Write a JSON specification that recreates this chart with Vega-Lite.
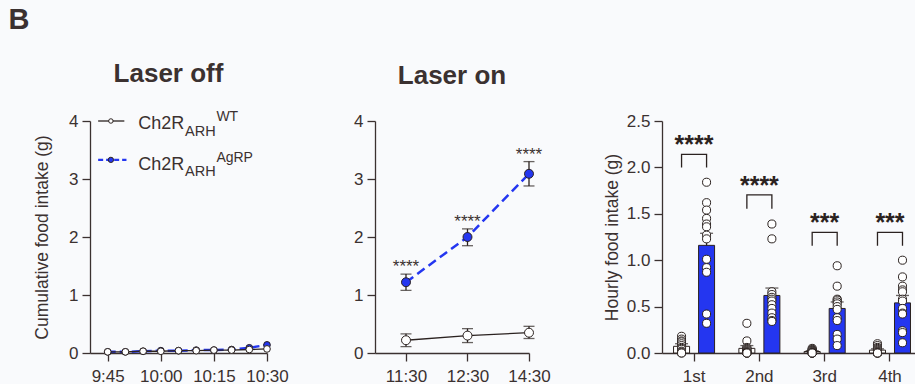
{
  "$schema": "https://vega.github.io/schema/vega-lite/v6.json",
  "background": "#f9fafc",
  "padding": {"left": 8, "top": 6, "right": 0, "bottom": 0},
  "title": {"text": "B", "anchor": "start", "frame": "bounds", "fontSize": 29, "fontWeight": "bold", "color": "#3b3130", "font": "Liberation Sans", "dx": -25, "offset": 26},
  "bounds": "flush",
  "spacing": 108,
  "datasets": {
    "cum": [
      {"min": 45, "group": "WT", "intake": 0.02}, {"min": 50, "group": "WT", "intake": 0.02}, {"min": 55, "group": "WT", "intake": 0.03}, {"min": 60, "group": "WT", "intake": 0.03}, {"min": 65, "group": "WT", "intake": 0.04}, {"min": 70, "group": "WT", "intake": 0.04}, {"min": 75, "group": "WT", "intake": 0.05}, {"min": 80, "group": "WT", "intake": 0.05}, {"min": 85, "group": "WT", "intake": 0.06}, {"min": 90, "group": "WT", "intake": 0.07},
      {"min": 45, "group": "AgRP", "intake": 0.02}, {"min": 50, "group": "AgRP", "intake": 0.02}, {"min": 55, "group": "AgRP", "intake": 0.03}, {"min": 60, "group": "AgRP", "intake": 0.04}, {"min": 65, "group": "AgRP", "intake": 0.04}, {"min": 70, "group": "AgRP", "intake": 0.05}, {"min": 75, "group": "AgRP", "intake": 0.05}, {"min": 80, "group": "AgRP", "intake": 0.06}, {"min": 85, "group": "AgRP", "intake": 0.09}, {"min": 90, "group": "AgRP", "intake": 0.14}
    ],
    "laser": [
      {"time": "11:30", "group": "WT", "mean": 0.22, "lo": 0.11, "hi": 0.33, "sig": ""},
      {"time": "12:30", "group": "WT", "mean": 0.30, "lo": 0.18, "hi": 0.42, "sig": ""},
      {"time": "14:30", "group": "WT", "mean": 0.35, "lo": 0.25, "hi": 0.46, "sig": ""},
      {"time": "11:30", "group": "AgRP", "mean": 1.22, "lo": 1.08, "hi": 1.36, "sig": "****"},
      {"time": "12:30", "group": "AgRP", "mean": 2.00, "lo": 1.85, "hi": 2.14, "sig": "****"},
      {"time": "14:30", "group": "AgRP", "mean": 3.09, "lo": 2.88, "hi": 3.30, "sig": "****"}
    ],
    "legend": [{"series": "WT"}],
    "hourly": [
      {"period": "1st", "group": "WT", "value": 0.18}, {"period": "1st", "group": "WT", "value": 0.15}, {"period": "1st", "group": "WT", "value": 0.13}, {"period": "1st", "group": "WT", "value": 0.12}, {"period": "1st", "group": "WT", "value": 0.10}, {"period": "1st", "group": "WT", "value": 0.08}, {"period": "1st", "group": "WT", "value": 0.06}, {"period": "1st", "group": "WT", "value": 0.05}, {"period": "1st", "group": "WT", "value": 0.04}, {"period": "1st", "group": "WT", "value": 0.02}, {"period": "1st", "group": "WT", "value": 0.01}, {"period": "1st", "group": "WT", "value": 0.0}, {"period": "1st", "group": "WT", "value": 0.0},
      {"period": "1st", "group": "AgRP", "value": 1.84}, {"period": "1st", "group": "AgRP", "value": 1.62}, {"period": "1st", "group": "AgRP", "value": 1.54}, {"period": "1st", "group": "AgRP", "value": 1.45}, {"period": "1st", "group": "AgRP", "value": 1.39}, {"period": "1st", "group": "AgRP", "value": 1.36}, {"period": "1st", "group": "AgRP", "value": 1.27}, {"period": "1st", "group": "AgRP", "value": 1.23}, {"period": "1st", "group": "AgRP", "value": 1.01}, {"period": "1st", "group": "AgRP", "value": 0.92}, {"period": "1st", "group": "AgRP", "value": 0.87}, {"period": "1st", "group": "AgRP", "value": 0.42}, {"period": "1st", "group": "AgRP", "value": 0.32},
      {"period": "2nd", "group": "WT", "value": 0.32}, {"period": "2nd", "group": "WT", "value": 0.13}, {"period": "2nd", "group": "WT", "value": 0.06}, {"period": "2nd", "group": "WT", "value": 0.05}, {"period": "2nd", "group": "WT", "value": 0.04}, {"period": "2nd", "group": "WT", "value": 0.03}, {"period": "2nd", "group": "WT", "value": 0.02}, {"period": "2nd", "group": "WT", "value": 0.01}, {"period": "2nd", "group": "WT", "value": 0.01}, {"period": "2nd", "group": "WT", "value": 0.0}, {"period": "2nd", "group": "WT", "value": 0.0}, {"period": "2nd", "group": "WT", "value": 0.0}, {"period": "2nd", "group": "WT", "value": 0.0},
      {"period": "2nd", "group": "AgRP", "value": 1.39}, {"period": "2nd", "group": "AgRP", "value": 1.23}, {"period": "2nd", "group": "AgRP", "value": 0.66}, {"period": "2nd", "group": "AgRP", "value": 0.63}, {"period": "2nd", "group": "AgRP", "value": 0.60}, {"period": "2nd", "group": "AgRP", "value": 0.58}, {"period": "2nd", "group": "AgRP", "value": 0.56}, {"period": "2nd", "group": "AgRP", "value": 0.52}, {"period": "2nd", "group": "AgRP", "value": 0.48}, {"period": "2nd", "group": "AgRP", "value": 0.43}, {"period": "2nd", "group": "AgRP", "value": 0.38}, {"period": "2nd", "group": "AgRP", "value": 0.35}, {"period": "2nd", "group": "AgRP", "value": 0.34},
      {"period": "3rd", "group": "WT", "value": 0.05}, {"period": "3rd", "group": "WT", "value": 0.04}, {"period": "3rd", "group": "WT", "value": 0.03}, {"period": "3rd", "group": "WT", "value": 0.03}, {"period": "3rd", "group": "WT", "value": 0.02}, {"period": "3rd", "group": "WT", "value": 0.02}, {"period": "3rd", "group": "WT", "value": 0.01}, {"period": "3rd", "group": "WT", "value": 0.01}, {"period": "3rd", "group": "WT", "value": 0.0}, {"period": "3rd", "group": "WT", "value": 0.0}, {"period": "3rd", "group": "WT", "value": 0.0}, {"period": "3rd", "group": "WT", "value": 0.0}, {"period": "3rd", "group": "WT", "value": 0.0},
      {"period": "3rd", "group": "AgRP", "value": 0.94}, {"period": "3rd", "group": "AgRP", "value": 0.72}, {"period": "3rd", "group": "AgRP", "value": 0.58}, {"period": "3rd", "group": "AgRP", "value": 0.57}, {"period": "3rd", "group": "AgRP", "value": 0.55}, {"period": "3rd", "group": "AgRP", "value": 0.53}, {"period": "3rd", "group": "AgRP", "value": 0.50}, {"period": "3rd", "group": "AgRP", "value": 0.47}, {"period": "3rd", "group": "AgRP", "value": 0.38}, {"period": "3rd", "group": "AgRP", "value": 0.35}, {"period": "3rd", "group": "AgRP", "value": 0.20}, {"period": "3rd", "group": "AgRP", "value": 0.15}, {"period": "3rd", "group": "AgRP", "value": 0.08},
      {"period": "4th", "group": "WT", "value": 0.10}, {"period": "4th", "group": "WT", "value": 0.08}, {"period": "4th", "group": "WT", "value": 0.06}, {"period": "4th", "group": "WT", "value": 0.05}, {"period": "4th", "group": "WT", "value": 0.04}, {"period": "4th", "group": "WT", "value": 0.03}, {"period": "4th", "group": "WT", "value": 0.02}, {"period": "4th", "group": "WT", "value": 0.01}, {"period": "4th", "group": "WT", "value": 0.01}, {"period": "4th", "group": "WT", "value": 0.0}, {"period": "4th", "group": "WT", "value": 0.0}, {"period": "4th", "group": "WT", "value": 0.0}, {"period": "4th", "group": "WT", "value": 0.0},
      {"period": "4th", "group": "AgRP", "value": 1.00}, {"period": "4th", "group": "AgRP", "value": 0.82}, {"period": "4th", "group": "AgRP", "value": 0.72}, {"period": "4th", "group": "AgRP", "value": 0.68}, {"period": "4th", "group": "AgRP", "value": 0.66}, {"period": "4th", "group": "AgRP", "value": 0.58}, {"period": "4th", "group": "AgRP", "value": 0.56}, {"period": "4th", "group": "AgRP", "value": 0.48}, {"period": "4th", "group": "AgRP", "value": 0.43}, {"period": "4th", "group": "AgRP", "value": 0.42}, {"period": "4th", "group": "AgRP", "value": 0.24}, {"period": "4th", "group": "AgRP", "value": 0.22}, {"period": "4th", "group": "AgRP", "value": 0.11}
    ],
    "hourbars": [
      {"period": "1st", "group": "WT", "mean": 0.072, "hi": 0.10}, {"period": "1st", "group": "AgRP", "mean": 1.16, "hi": 1.29},
      {"period": "2nd", "group": "WT", "mean": 0.05, "hi": 0.08}, {"period": "2nd", "group": "AgRP", "mean": 0.62, "hi": 0.70},
      {"period": "3rd", "group": "WT", "mean": 0.016, "hi": 0.025}, {"period": "3rd", "group": "AgRP", "mean": 0.48, "hi": 0.55},
      {"period": "4th", "group": "WT", "mean": 0.031, "hi": 0.045}, {"period": "4th", "group": "AgRP", "mean": 0.54, "hi": 0.62}
    ],
    "brackets": [
      {"period": "1st", "group": "WT", "y": 2.0, "ord": 0}, {"period": "1st", "group": "WT", "y": 2.14, "ord": 1}, {"period": "1st", "group": "AgRP", "y": 2.14, "ord": 2}, {"period": "1st", "group": "AgRP", "y": 2.0, "ord": 3},
      {"period": "2nd", "group": "WT", "y": 1.555, "ord": 0}, {"period": "2nd", "group": "WT", "y": 1.705, "ord": 1}, {"period": "2nd", "group": "AgRP", "y": 1.705, "ord": 2}, {"period": "2nd", "group": "AgRP", "y": 1.555, "ord": 3},
      {"period": "3rd", "group": "WT", "y": 1.155, "ord": 0}, {"period": "3rd", "group": "WT", "y": 1.30, "ord": 1}, {"period": "3rd", "group": "AgRP", "y": 1.30, "ord": 2}, {"period": "3rd", "group": "AgRP", "y": 1.155, "ord": 3},
      {"period": "4th", "group": "WT", "y": 1.155, "ord": 0}, {"period": "4th", "group": "WT", "y": 1.30, "ord": 1}, {"period": "4th", "group": "AgRP", "y": 1.30, "ord": 2}, {"period": "4th", "group": "AgRP", "y": 1.155, "ord": 3}
    ],
    "hoursig": [
      {"period": "1st", "top": 2.14, "sig": "****"},
      {"period": "2nd", "top": 1.705, "sig": "****"},
      {"period": "3rd", "top": 1.30, "sig": "***"},
      {"period": "4th", "top": 1.30, "sig": "***"}
    ]
  },
  "hconcat": [
    {
      "width": 177,
      "height": 232,
      "title": {"text": "Laser off", "dx": -10},
      "data": {"name": "cum"},
      "layer": [
        {
          "transform": [{"filter": "datum.group === 'AgRP'"}],
          "mark": {"type": "line", "color": "#2436f0", "strokeWidth": 2.5, "strokeDash": [8, 4]},
          "encoding": {
            "x": {"field": "min", "type": "quantitative", "scale": {"domain": [40, 90], "nice": false, "zero": false}, "axis": {"title": null, "values": [45, 60, 75, 90], "labelExpr": "(9 + floor(datum.value / 60)) + ':' + (datum.value % 60 < 10 ? '0' : '') + (datum.value % 60)"}},
            "y": {"field": "intake", "type": "quantitative", "scale": {"domain": [0, 4], "nice": false}, "axis": {"title": "Cumulative food intake (g)", "values": [0, 1, 2, 3, 4], "format": "d", "titlePadding": 17}}
          }
        },
        {
          "transform": [{"filter": "datum.group === 'WT'"}],
          "mark": {"type": "line", "color": "#2b2220", "strokeWidth": 1.3},
          "encoding": {"x": {"field": "min", "type": "quantitative"}, "y": {"field": "intake", "type": "quantitative"}}
        },
        {
          "transform": [{"filter": "datum.group === 'AgRP'"}],
          "mark": {"type": "point", "shape": "circle", "filled": true, "fill": "#2436f0", "stroke": "#2b2220", "strokeWidth": 1, "size": 45, "opacity": 1},
          "encoding": {"x": {"field": "min", "type": "quantitative"}, "y": {"field": "intake", "type": "quantitative"}}
        },
        {
          "transform": [{"filter": "datum.group === 'WT'"}],
          "mark": {"type": "point", "shape": "circle", "filled": true, "fill": "#ffffff", "stroke": "#2b2220", "strokeWidth": 1, "size": 45, "opacity": 1},
          "encoding": {"x": {"field": "min", "type": "quantitative"}, "y": {"field": "intake", "type": "quantitative"}}
        },
        {
          "data": {"name": "legend"},
          "mark": {"type": "rule", "color": "#2b2220", "strokeWidth": 1.3},
          "encoding": {"x": {"datum": 42.3, "type": "quantitative"}, "x2": {"datum": 49.7}, "y": {"datum": 4.0, "type": "quantitative"}}
        },
        {
          "data": {"name": "legend"},
          "mark": {"type": "rule", "color": "#2436f0", "strokeWidth": 2.2, "strokeDash": [5, 3]},
          "encoding": {"x": {"datum": 42.3, "type": "quantitative"}, "x2": {"datum": 50.3}, "y": {"datum": 3.33, "type": "quantitative"}}
        },
        {
          "data": {"name": "legend"},
          "mark": {"type": "point", "shape": "circle", "filled": true, "fill": "#ffffff", "stroke": "#2b2220", "strokeWidth": 1, "size": 20, "opacity": 1},
          "encoding": {"x": {"datum": 45.9, "type": "quantitative"}, "y": {"datum": 4.0, "type": "quantitative"}}
        },
        {
          "data": {"name": "legend"},
          "mark": {"type": "point", "shape": "circle", "filled": true, "fill": "#2436f0", "stroke": "#2b2220", "strokeWidth": 1, "size": 28, "opacity": 1},
          "encoding": {"x": {"datum": 45.9, "type": "quantitative"}, "y": {"datum": 3.33, "type": "quantitative"}}
        },
        {
          "data": {"name": "legend"},
          "mark": {"type": "text", "text": "Ch2R", "fontSize": 18, "align": "left", "baseline": "alphabetic", "color": "#3b3130"},
          "encoding": {"x": {"datum": 53.64, "type": "quantitative"}, "y": {"datum": 3.862, "type": "quantitative"}}
        },
        {
          "data": {"name": "legend"},
          "mark": {"type": "text", "text": "ARH", "fontSize": 14.5, "align": "left", "baseline": "alphabetic", "color": "#3b3130"},
          "encoding": {"x": {"datum": 66.84, "type": "quantitative"}, "y": {"datum": 3.748, "type": "quantitative"}}
        },
        {
          "data": {"name": "legend"},
          "mark": {"type": "text", "text": "WT", "fontSize": 14, "align": "left", "baseline": "alphabetic", "color": "#3b3130"},
          "encoding": {"x": {"datum": 75.7, "type": "quantitative"}, "y": {"datum": 3.995, "type": "quantitative"}}
        },
        {
          "data": {"name": "legend"},
          "mark": {"type": "text", "text": "Ch2R", "fontSize": 18, "align": "left", "baseline": "alphabetic", "color": "#3b3130"},
          "encoding": {"x": {"datum": 53.64, "type": "quantitative"}, "y": {"datum": 3.162, "type": "quantitative"}}
        },
        {
          "data": {"name": "legend"},
          "mark": {"type": "text", "text": "ARH", "fontSize": 14.5, "align": "left", "baseline": "alphabetic", "color": "#3b3130"},
          "encoding": {"x": {"datum": 66.84, "type": "quantitative"}, "y": {"datum": 3.048, "type": "quantitative"}}
        },
        {
          "data": {"name": "legend"},
          "mark": {"type": "text", "text": "AgRP", "fontSize": 14, "align": "left", "baseline": "alphabetic", "color": "#3b3130"},
          "encoding": {"x": {"datum": 75.7, "type": "quantitative"}, "y": {"datum": 3.295, "type": "quantitative"}}
        }
      ]
    },
    {
      "width": 179,
      "height": 232,
      "title": {"text": "Laser on", "dx": -12.5},
      "data": {"name": "laser"},
      "encoding": {
        "x": {"field": "time", "type": "ordinal", "scale": {"type": "point", "padding": 0.252, "align": 1, "domain": ["11:30", "12:30", "14:30"], "range": [0, 154]}, "axis": {"title": null, "labelAngle": 0}}
      },
      "layer": [
        {
          "transform": [{"filter": "datum.group === 'AgRP'"}],
          "mark": {"type": "line", "color": "#2436f0", "strokeWidth": 2.5, "strokeDash": [9, 5]},
          "encoding": {"y": {"field": "mean", "type": "quantitative", "scale": {"domain": [0, 4], "nice": false}, "axis": {"title": null, "values": [0, 1, 2, 3, 4], "format": "d"}}}
        },
        {
          "transform": [{"filter": "datum.group === 'WT'"}],
          "mark": {"type": "line", "color": "#2b2220", "strokeWidth": 1.3},
          "encoding": {"y": {"field": "mean", "type": "quantitative"}}
        },
        {
          "mark": {"type": "rule", "color": "#2b2220", "strokeWidth": 1.3},
          "encoding": {"y": {"field": "lo", "type": "quantitative"}, "y2": {"field": "hi"}}
        },
        {
          "mark": {"type": "tick", "color": "#2b2220", "thickness": 1.3, "size": 11, "orient": "horizontal"},
          "encoding": {"y": {"field": "lo", "type": "quantitative"}}
        },
        {
          "mark": {"type": "tick", "color": "#2b2220", "thickness": 1.3, "size": 11, "orient": "horizontal"},
          "encoding": {"y": {"field": "hi", "type": "quantitative"}}
        },
        {
          "transform": [{"filter": "datum.group === 'WT'"}],
          "mark": {"type": "point", "shape": "circle", "filled": true, "fill": "#ffffff", "stroke": "#2b2220", "strokeWidth": 1, "size": 80, "opacity": 1},
          "encoding": {"y": {"field": "mean", "type": "quantitative"}}
        },
        {
          "transform": [{"filter": "datum.group === 'AgRP'"}],
          "mark": {"type": "point", "shape": "circle", "filled": true, "fill": "#2436f0", "stroke": "#2b2220", "strokeWidth": 1, "size": 80, "opacity": 1},
          "encoding": {"y": {"field": "mean", "type": "quantitative"}}
        },
        {
          "transform": [{"filter": "datum.group === 'AgRP'"}],
          "mark": {"type": "text", "fontSize": 17, "baseline": "alphabetic", "dy": -2, "color": "#3b3130"},
          "encoding": {"y": {"field": "hi", "type": "quantitative"}, "text": {"field": "sig"}}
        }
      ]
    },
    {
      "width": 253,
      "height": 232,
      "encoding": {
        "x": {"field": "period", "type": "nominal", "scale": {"type": "band", "domain": ["1st", "2nd", "3rd", "4th"], "paddingInner": 0.234, "paddingOuter": 0.054, "align": 1}, "axis": {"title": null, "labelAngle": 0}},
        "xOffset": {"field": "group", "type": "nominal", "scale": {"domain": ["WT", "AgRP"], "paddingInner": 0.36, "paddingOuter": 0.18}}
      },
      "layer": [
        {
          "data": {"name": "hourbars"},
          "mark": {"type": "bar", "stroke": "#2b2220", "strokeWidth": 1},
          "encoding": {
            "y": {"field": "mean", "type": "quantitative", "scale": {"domain": [0, 2.5], "nice": false}, "axis": {"title": "Hourly food intake (g)", "values": [0, 0.5, 1, 1.5, 2, 2.5], "format": ".1f", "titlePadding": 5}},
            "color": {"field": "group", "type": "nominal", "scale": {"domain": ["WT", "AgRP"], "range": ["#ffffff", "#2436f0"]}, "legend": null}
          }
        },
        {
          "data": {"name": "hourbars"},
          "mark": {"type": "rule", "color": "#2b2220", "strokeWidth": 1.3},
          "encoding": {"y": {"field": "mean", "type": "quantitative"}, "y2": {"field": "hi"}}
        },
        {
          "data": {"name": "hourbars"},
          "mark": {"type": "tick", "color": "#2b2220", "thickness": 1.3, "size": 13, "orient": "horizontal"},
          "encoding": {"y": {"field": "hi", "type": "quantitative"}}
        },
        {
          "data": {"name": "hourly"},
          "mark": {"type": "point", "shape": "circle", "filled": true, "fill": "#ffffff", "stroke": "#2b2220", "strokeWidth": 1, "size": 65, "opacity": 1},
          "encoding": {"y": {"field": "value", "type": "quantitative"}}
        },
        {
          "data": {"name": "brackets"},
          "mark": {"type": "line", "color": "#2b2220", "strokeWidth": 1.3},
          "encoding": {"y": {"field": "y", "type": "quantitative"}, "detail": {"field": "period"}, "order": {"field": "ord", "type": "quantitative"}}
        },
        {
          "data": {"name": "hoursig"},
          "mark": {"type": "text", "fontSize": 25, "fontWeight": "bold", "baseline": "alphabetic", "dy": -1, "color": "#2b2220"},
          "encoding": {"xOffset": null, "y": {"field": "top", "type": "quantitative"}, "text": {"field": "sig"}}
        }
      ]
    }
  ],
  "config": {
    "view": {"stroke": null},
    "font": "Liberation Sans",
    "axis": {"domainColor": "#3b3130", "tickColor": "#3b3130", "labelColor": "#3b3130", "titleColor": "#3b3130", "domainWidth": 1.3, "tickWidth": 1.3, "tickSize": 8, "labelFontSize": 17, "titleFontSize": 17.5, "titleFontWeight": "normal", "grid": false, "labelFont": "Liberation Sans", "titleFont": "Liberation Sans", "labelPadding": 4, "labelFlush": false, "titlePadding": 6},
    "axisX": {"labelPadding": 7},
    "title": {"fontSize": 26, "fontWeight": "bold", "color": "#3b3130", "font": "Liberation Sans", "offset": 23}
  }
}
